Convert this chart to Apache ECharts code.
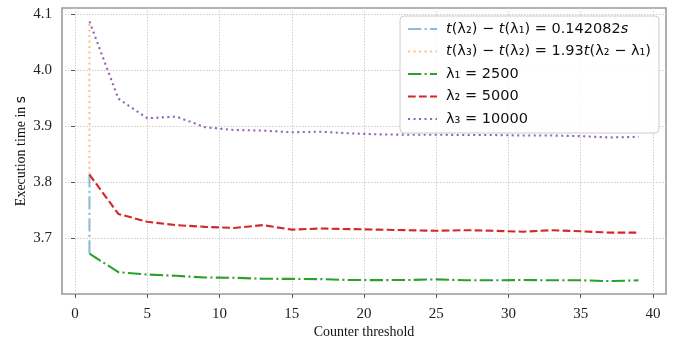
<!DOCTYPE html>
<html>
<head>
<meta charset="utf-8">
<script src="https://cdn.jsdelivr.net/npm/echarts@6/dist/echarts.min.js"></script>
<style>html,body{margin:0;padding:0;background:#fff;}#c{width:687px;height:344px;}</style>
</head>
<body>
<div id="c"></div>
<script>
// ---- data ----
const counterThreshold = [1, 3, 5, 7, 9, 11, 13, 15, 17, 19, 21, 23, 25, 27, 29, 31, 33, 35, 37, 39];
const lambda1Times = [3.6723, 3.6389, 3.6348, 3.6325, 3.6295, 3.6290, 3.6272, 3.6270, 3.6266, 3.6250,
                      3.6248, 3.6250, 3.6262, 3.6245, 3.6245, 3.6250, 3.6245, 3.6245, 3.6230, 3.6245];
const lambda2Times = [3.8133, 3.7430, 3.7290, 3.7230, 3.7200, 3.7180, 3.7230, 3.7150, 3.7170, 3.7160,
                      3.7150, 3.7140, 3.7130, 3.7140, 3.7130, 3.7113, 3.7140, 3.7120, 3.7097, 3.7097];
const lambda3Times = [4.0870, 3.9490, 3.9140, 3.9170, 3.8980, 3.8930, 3.8920, 3.8890, 3.8900, 3.8870,
                      3.8852, 3.8846, 3.8846, 3.8840, 3.8840, 3.8832, 3.8832, 3.8820, 3.8797, 3.8808];
const seriesNames = ['diff21', 'diff32', 'l1', 'l2', 'l3'];
const legendLabels = {
  diff21: '{i|t}(λ₂) − {i|t}(λ₁) = 0.142082{i|s}',
  diff32: '{i|t}(λ₃) − {i|t}(λ₂) = 1.93{i|t}(λ₂ − λ₁)',
  l1: 'λ₁ = 2500',
  l2: 'λ₂ = 5000',
  l3: 'λ₃ = 10000'
};
const xTicks = [0, 5, 10, 15, 20, 25, 30, 35, 40];
const yTicks = [3.7, 3.8, 3.9, 4.0, 4.1];

// ---- chart ----
const zip = (xs, ys) => xs.map((x, i) => [x, ys[i]]);
const dashdot = [13.3, 3.3, 2.1, 3.3];
const dashed = [7.7, 3.3];
const dotted = [2.1, 3.4];
const lw = 2.1;

function lineSeries(name, data, color, type, opacity) {
  return {
    name: name, type: 'line', data: data, symbol: 'none', showSymbol: false,
    animation: false,
    lineStyle: { color: color, width: lw, type: type, opacity: opacity, cap: 'butt' },
    itemStyle: { color: color },
    emphasis: { disabled: true }
  };
}

const chart = echarts.init(document.getElementById('c'), null, { renderer: 'canvas' });
const serif = '"Liberation Serif", "Times New Roman", serif';
chart.setOption({
  animation: false,
  backgroundColor: '#fff',
  grid: { left: 62, right: 21, top: 8, bottom: 46, show: true, borderColor: '#9a9a9a', borderWidth: 1.6, backgroundColor: 'transparent' },
  xAxis: {
    type: 'value', min: -0.9, max: 40.9, splitNumber: 8,
    name: 'Counter threshold', nameLocation: 'middle', nameGap: 31, nameMoveOverlap: false,
    nameTextStyle: { fontFamily: serif, fontSize: 14, color: '#111' },
    axisLine: { show: false },
    axisTick: { show: true, length: 4, customValues: xTicks, lineStyle: { color: '#555', width: 1 } },
    axisLabel: { customValues: xTicks, fontFamily: serif, fontSize: 15, color: '#222', margin: 13 },
    splitLine: { show: true, lineStyle: { color: '#cfcfcf', width: 1, type: [1.5, 1.5] } }
  },
  yAxis: {
    type: 'value', min: 3.6, max: 4.111, splitNumber: 5,
    name: 'Execution time in {s|s}', nameLocation: 'middle', nameGap: 34, nameRotate: 90, nameMoveOverlap: false,
    nameTextStyle: { fontFamily: serif, fontSize: 14, color: '#111',
      rich: { s: { fontFamily: '"DejaVu Sans"', fontSize: 14, color: '#111' } } },
    axisLine: { show: false },
    axisTick: { show: true, length: 4, customValues: yTicks, lineStyle: { color: '#555', width: 1 } },
    axisLabel: { customValues: yTicks, fontFamily: serif, fontSize: 15, color: '#222', margin: 10,
      formatter: v => v.toFixed(1) },
    splitLine: { show: true, lineStyle: { color: '#cfcfcf', width: 1, type: [1.5, 1.5] } }
  },
  legend: {
    orient: 'vertical', left: 400, top: 16,
    padding: [4, 8, 5, 7],
    itemWidth: 29, itemHeight: 18, itemGap: 4.5,
    backgroundColor: 'rgba(255,255,255,0.85)', borderColor: '#cccccc', borderWidth: 1, borderRadius: 4,
    data: seriesNames,
    formatter: n => legendLabels[n],
    textStyle: {
      fontFamily: '"DejaVu Sans"', fontSize: 14.5, color: '#111', lineHeight: 18, padding: [0, 0, 0, 4],
      rich: { i: { fontFamily: '"DejaVu Sans"', fontStyle: 'italic', fontSize: 14.5, color: '#111' } }
    },
    itemStyle: { opacity: 0 },
    selectedMode: false
  },
  series: [
    lineSeries('diff21', [[counterThreshold[0], lambda1Times[0]], [counterThreshold[0], lambda2Times[0]]], '#1f77b4', dashdot, 0.5),
    lineSeries('diff32', [[counterThreshold[0], lambda2Times[0]], [counterThreshold[0], lambda3Times[0]]], '#ff7f0e', dotted, 0.5),
    lineSeries('l1', zip(counterThreshold, lambda1Times), '#2ca02c', dashdot, 1),
    lineSeries('l2', zip(counterThreshold, lambda2Times), '#d62728', dashed, 1),
    lineSeries('l3', zip(counterThreshold, lambda3Times), '#9467bd', dotted, 1)
  ]
});
</script>
</body>
</html>
